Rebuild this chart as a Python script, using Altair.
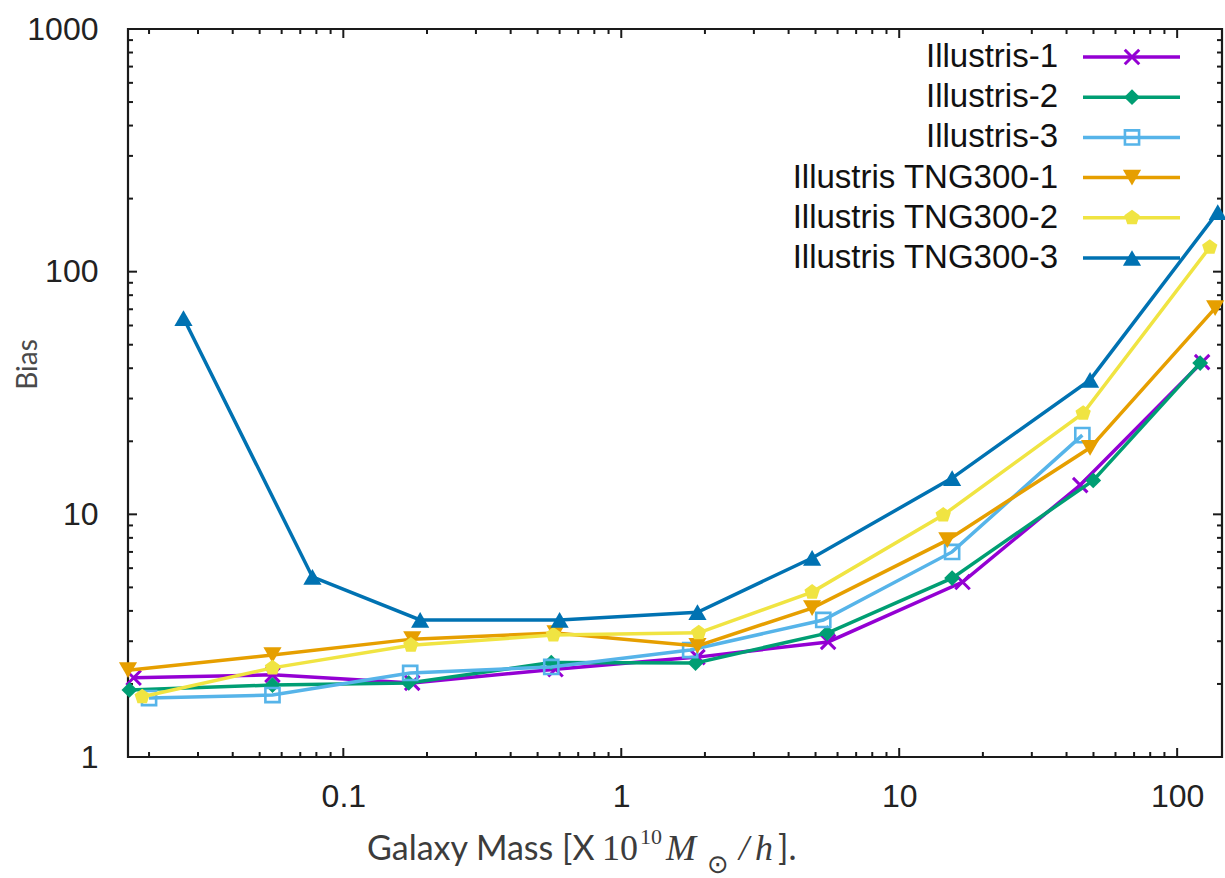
import altair as alt
import pandas as pd

# ---------------- data ----------------
NAMES = ["Illustris-1", "Illustris-2", "Illustris-3",
         "Illustris TNG300-1", "Illustris TNG300-2", "Illustris TNG300-3"]
COLORS = ["#9400d3", "#009e73", "#56b4e9", "#e69f00", "#f0e442", "#0072b2"]

ill1_mass = [0.0176, 0.0556, 0.177, 0.58, 1.88, 5.55, 16.9, 44.8, 123]
ill1_bias = [2.12, 2.18, 2.02, 2.30, 2.58, 2.98, 5.26, 13.2, 42.4]

ill2_mass = [0.0170, 0.0556, 0.172, 0.56, 1.85, 5.51, 15.5, 49.9, 121]
ill2_bias = [1.89, 1.98, 2.02, 2.45, 2.44, 3.24, 5.46, 13.8, 42.0]

ill3_mass = [0.0200, 0.0556, 0.174, 0.56, 1.77, 5.33, 15.5, 45.6]
ill3_bias = [1.75, 1.80, 2.22, 2.35, 2.76, 3.67, 7.0, 21.2]

tng1_mass = [0.0168, 0.0556, 0.177, 0.58, 1.88, 4.86, 14.9, 48.6, 137]
tng1_bias = [2.28, 2.63, 3.06, 3.24, 2.87, 4.11, 7.83, 18.8, 70.8]

tng2_mass = [0.0189, 0.0556, 0.175, 0.57, 1.90, 4.86, 14.4, 45.9, 131]
tng2_bias = [1.77, 2.33, 2.89, 3.18, 3.25, 4.78, 9.93, 26.1, 126]

tng3_mass = [0.0266, 0.0774, 0.189, 0.60, 1.88, 4.86, 15.5, 48.6, 140]
tng3_bias = [64.4, 5.52, 3.67, 3.67, 3.95, 6.61, 14.1, 35.8, 176]

SERIES = [(ill1_mass, ill1_bias), (ill2_mass, ill2_bias), (ill3_mass, ill3_bias),
          (tng1_mass, tng1_bias), (tng2_mass, tng2_bias), (tng3_mass, tng3_bias)]

X_TICK_LABELS = [0.1, 1, 10, 100]
Y_TICK_LABELS = [1, 10, 100, 1000]
X_DOMAIN = [0.0168, 145]
Y_DOMAIN = [1, 1000]

# ---------------- layout / style ----------------
W, H = 1094, 728
FRAME = "#1a1a1a"
LW = 3.5

MARKS = [
    dict(shape="M-1,-1L1,1M1,-1L-1,1", filled=False, size=210, strokeWidth=3),
    dict(shape="diamond", filled=True, size=250),
    dict(shape="square", filled=False, size=200, strokeWidth=2.6),
    dict(shape="triangle-down", filled=True, size=330),
    dict(shape="M0,-1L0.951,-0.309L0.588,0.809L-0.588,0.809L-0.951,-0.309Z", filled=True, size=260),
    dict(shape="triangle-up", filled=True, size=330),
]

x_scale = alt.Scale(type="log", domain=X_DOMAIN, nice=False)
y_scale = alt.Scale(type="log", domain=Y_DOMAIN, nice=False)

X_AXIS = alt.Axis(values=X_TICK_LABELS, format="~g", ticks=False, domain=False, grid=False,
                  labelFont="Liberation Sans", labelFontSize=32, labelColor="#222222",
                  labelPadding=24, title=None)
Y_AXIS = alt.Axis(values=Y_TICK_LABELS, format="~g", ticks=False, domain=False, grid=False,
                  labelFont="Liberation Sans", labelFontSize=32, labelColor="#222222",
                  labelPadding=30, title="Bias", titleFont="Lato", titleFontSize=28,
                  titleFontWeight="normal", titleColor="#4a4a4a", titleAngle=270,
                  titleX=-100, titleY=335, titleAlign="center", titleBaseline="middle")

layers = []

# ---------------- inward ticks on all four sides ----------------
y_minor = [m * 10 ** k for k in range(0, 3) for m in range(2, 10)]
x_minor = [m * 10.0 ** k for k in range(-2, 3) for m in range(2, 10)
           if X_DOMAIN[0] <= m * 10.0 ** k <= X_DOMAIN[1]]

def ytick(vals, x0, x1):
    return alt.Chart(pd.DataFrame({"v": vals})).mark_rule(color=FRAME, strokeWidth=2).encode(
        y=alt.Y("v:Q", scale=y_scale, axis=None), x=alt.value(x0), x2=alt.value(x1))

def xtick(vals, y0, y1):
    return alt.Chart(pd.DataFrame({"v": vals})).mark_rule(color=FRAME, strokeWidth=2).encode(
        x=alt.X("v:Q", scale=x_scale, axis=X_AXIS), y=alt.value(y0), y2=alt.value(y1))

layers += [ytick(Y_TICK_LABELS, 0, 9), ytick(y_minor, 0, 5),
           ytick(Y_TICK_LABELS, W, W - 9), ytick(y_minor, W, W - 5),
           xtick(X_TICK_LABELS, H, H - 9), xtick(x_minor, H, H - 5),
           xtick(X_TICK_LABELS, 0, 9), xtick(x_minor, 0, 5)]

# ---------------- series ----------------
for i, (name, color, (mx, by), mk) in enumerate(zip(NAMES, COLORS, SERIES, MARKS)):
    df = pd.DataFrame({"mass": mx, "bias": by, "series": name})
    yenc = alt.Y("bias:Q", scale=y_scale, axis=Y_AXIS if i == 0 else None)
    xenc = alt.X("mass:Q", scale=x_scale, axis=X_AXIS)
    line = alt.Chart(df).mark_line(color=color, strokeWidth=LW, clip=False).encode(x=xenc, y=yenc)
    pts = alt.Chart(df).mark_point(color=color, opacity=1, clip=False, **mk).encode(
        x=xenc, y=alt.Y("bias:Q", scale=y_scale, axis=None))
    layers += [line, pts]

# ---------------- legend (inside, top right) ----------------
leg_scale = alt.Scale(type="point", domain=NAMES, range=[28, 229], padding=0)
leg_df = pd.DataFrame({"series": NAMES})
layers.append(
    alt.Chart(leg_df).mark_text(align="right", baseline="middle", font="Liberation Sans",
                                fontSize=33, color="#111111").encode(
        y=alt.Y("series:N", scale=leg_scale, axis=None), x=alt.value(930), text="series:N"))
for name, color, mk in zip(NAMES, COLORS, MARKS):
    d = pd.DataFrame({"series": [name]})
    layers.append(alt.Chart(d).mark_rule(color=color, strokeWidth=LW).encode(
        y=alt.Y("series:N", scale=leg_scale, axis=None), x=alt.value(955), x2=alt.value(1052)))
    layers.append(alt.Chart(d).mark_point(color=color, opacity=1, **mk).encode(
        y=alt.Y("series:N", scale=leg_scale, axis=None), x=alt.value(1004)))

# ---------------- x-axis title (rich text) ----------------
def txt(s, x, y, font, size, style="normal", align="left", baseline="alphabetic"):
    return alt.Chart(pd.DataFrame({"t": [s]})).mark_text(
        align=align, baseline=baseline, font=font, fontSize=size, fontStyle=style,
        color="#3c3c3c").encode(text="t:N", x=alt.value(x), y=alt.value(y))

layers += [
    txt("Galaxy Mass [X", 239, 831, "Lato", 34),
    txt("10", 474, 831, "Liberation Serif", 36),
    txt("10", 512, 815, "Liberation Serif", 22),
    txt("M", 538, 831, "Liberation Serif", 36, style="italic"),
    txt("\u2299", 590, 836, "DejaVu Sans", 26, align="center", baseline="middle"),
    txt("/", 611, 831, "Liberation Serif", 36, style="italic"),
    txt("h", 627, 831, "Liberation Serif", 36, style="italic"),
    txt("].", 650, 831, "Lato", 34),
]

chart = alt.layer(*layers).resolve_scale(y="independent").properties(
    width=W, height=H,
    autosize=alt.AutoSizeParams(type="none"),
    padding={"left": 128, "top": 29, "right": 3, "bottom": 121},
    background="white",
).configure_view(stroke=FRAME, strokeWidth=2.2)

chart.save("out.html", embed_options={"renderer": "svg", "actions": False})
